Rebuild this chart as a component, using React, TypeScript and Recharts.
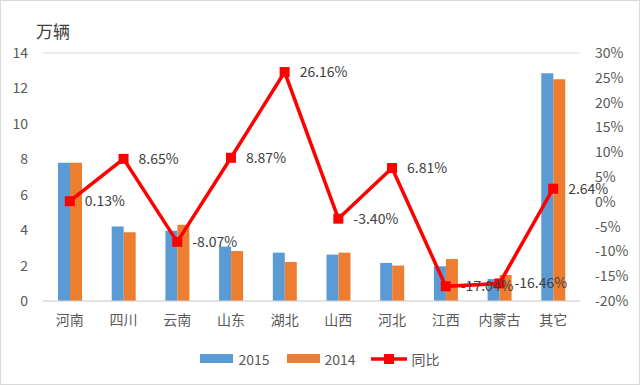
import React from 'react';
import { ComposedChart, Bar, Line, XAxis, YAxis, CartesianGrid, Legend, LabelList } from 'recharts';

const categories = ['河南', '四川', '云南', '山东', '湖北', '山西', '河北', '江西', '内蒙古', '其它'];
const sales2015 = [7.8, 4.2, 3.97, 3.07, 2.73, 2.62, 2.15, 1.96, 1.24, 12.86];
const sales2014 = [7.8, 3.88, 4.31, 2.82, 2.2, 2.73, 2.0, 2.37, 1.47, 12.52];
const yoy = [0.13, 8.65, -8.07, 8.87, 26.16, -3.4, 6.81, -17.04, -16.46, 2.64];
const leftTicks = [0, 2, 4, 6, 8, 10, 12, 14];
const rightTicks = [-20, -15, -10, -5, 0, 5, 10, 15, 20, 25, 30];

const data = categories.map((c, i) => ({ name: c, s2015: sales2015[i], s2014: sales2014[i], yoy: yoy[i] }));

const FONT = '"Noto Sans CJK SC", "Noto Sans", sans-serif';
const TXT = '#595959';

const SquareDot = (props: any) => {
  const { cx, cy } = props;
  if (cx == null || cy == null) return null;
  return <rect x={cx - 5} y={cy - 5} width={10} height={10} fill="#ff0000" />;
};

const PctLabel = (props: any) => {
  const { x, y, value } = props;
  return (
    <text x={x + 15} y={y} dy="0.35em" fill="#404040" fontSize={14} fontFamily={FONT} textAnchor="start">
      {`${Number(value).toFixed(2)}%`}
    </text>
  );
};

const LegendContent = () => (
  <div style={{ display: 'flex', justifyContent: 'center', alignItems: 'center', fontFamily: FONT, fontSize: 14, color: TXT, height: 27 }}>
    <span style={{ display: 'inline-block', width: 33, height: 9, background: '#5b9bd5', marginRight: 5 }} />
    <span style={{ marginRight: 17 }}>2015</span>
    <span style={{ display: 'inline-block', width: 33, height: 9, background: '#ed7d31', marginRight: 5 }} />
    <span style={{ marginRight: 15 }}>2014</span>
    <svg width={36} height={12} style={{ marginRight: 5 }}>
      <line x1={0} y1={6} x2={36} y2={6} stroke="#ff0000" strokeWidth={3.5} />
      <rect x={13} y={1} width={10} height={10} fill="#ff0000" />
    </svg>
    <span>同比</span>
  </div>
);

export default function App() {
  return (
    <div style={{ position: 'absolute', left: 0, top: 0, width: 640, height: 385, background: '#fff' }}>
      <div style={{ position: 'absolute', left: 0, top: 0, width: 640, height: 385, border: '1px solid #d9d9d9', boxSizing: 'border-box', pointerEvents: 'none', zIndex: 2 }} />
      <div style={{ position: 'absolute', left: 36, top: 18, fontFamily: FONT, fontSize: 17, color: '#404040', zIndex: 3 }}>万辆</div>
      <ComposedChart width={640} height={385} data={data} margin={{ top: 53, right: 0, bottom: 13, left: 0 }} barGap={0} barSize={12}>
        <CartesianGrid vertical={false} stroke="#d9d9d9" strokeWidth={1} />
        <XAxis dataKey="name" height={44} tickLine={false} tickSize={0} tickMargin={14} axisLine={{ stroke: '#d9d9d9' }}
          tick={{ fill: TXT, fontSize: 14, fontFamily: FONT }} interval={0} />
        <YAxis yAxisId="left" width={43} domain={[0, 14]} ticks={leftTicks} tickLine={false} tickSize={0} tickMargin={15} axisLine={false}
          tick={{ fill: TXT, fontSize: 14, fontFamily: FONT }} />
        <YAxis yAxisId="right" orientation="right" width={60} domain={[-20, 30]} ticks={rightTicks} tickLine={false} tickSize={0} tickMargin={15}
          axisLine={false} tickFormatter={(v: number) => `${v}%`} tick={{ fill: TXT, fontSize: 14, fontFamily: FONT, textAnchor: 'start' }} />
        <Legend verticalAlign="bottom" height={27} content={<LegendContent />} />
        <Bar yAxisId="left" dataKey="s2015" name="2015" fill="#5b9bd5" isAnimationActive={false} />
        <Bar yAxisId="left" dataKey="s2014" name="2014" fill="#ed7d31" isAnimationActive={false} />
        <Line yAxisId="right" dataKey="yoy" name="同比" stroke="#ff0000" strokeWidth={3.5} dot={<SquareDot />} activeDot={false} isAnimationActive={false}>
          <LabelList dataKey="yoy" content={<PctLabel />} />
        </Line>
      </ComposedChart>
    </div>
  );
}
